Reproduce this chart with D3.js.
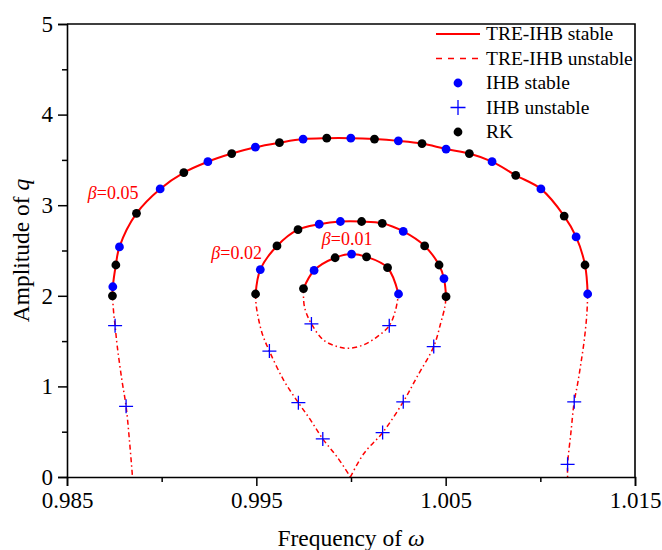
<!DOCTYPE html>
<html>
<head>
<meta charset="utf-8">
<script src="https://cdn.jsdelivr.net/npm/d3@7"></script>
<style>
  body { margin: 0; background: #fff; }
  svg text { font-family: "Liberation Serif", "Times New Roman", serif; }
</style>
</head>
<body>
<div id="chart"></div>
<script>
// frequency / amplitude pairs
// beta = 0.05
var stable05 = [[0.98740,2.00],[0.98742,2.10],[0.98758,2.34],[0.98777,2.54],[0.98867,2.91],[0.98992,3.18],[0.99117,3.36],[0.99244,3.48],[0.99370,3.57],[0.99495,3.64],[0.99622,3.69],[0.99747,3.73],[0.99872,3.74],[0.99999,3.74],[1.00124,3.73],[1.00250,3.71],[1.00375,3.68],[1.00502,3.62],[1.00625,3.57],[1.00745,3.48],[1.00870,3.33],[1.01003,3.18],[1.01126,2.88],[1.01189,2.65],[1.01236,2.34],[1.01250,2.02]];
var unstable05L = [[0.98740,2.00],[0.98747,1.80],[0.98754,1.67],[0.98765,1.45],[0.98790,1.07],[0.98812,0.78],[0.98830,0.40],[0.98846,0.00]];
var unstable05R = [[1.01250,2.02],[1.01246,1.81],[1.01232,1.51],[1.01214,1.25],[1.01197,1.03],[1.01179,0.83],[1.01161,0.48],[1.01144,0.14],[1.01144,0.00]];
// beta = 0.02
var stable02 = [[0.99496,2.02],[0.99521,2.29],[0.99609,2.55],[0.99720,2.73],[0.99832,2.79],[0.99944,2.82],[1.00056,2.82],[1.00165,2.80],[1.00276,2.71],[1.00389,2.55],[1.00465,2.34],[1.00491,2.19],[1.00502,1.99]];
var unstable02L = [[0.99496,2.02],[0.99500,1.88],[0.99530,1.59],[0.99569,1.39],[0.99644,1.07],[0.99722,0.82],[0.99786,0.63],[0.99851,0.42],[0.99927,0.22],[0.99997,0.00]];
var unstable02R = [[0.99997,0.00],[1.00068,0.26],[1.00167,0.49],[1.00276,0.83],[1.00350,1.11],[1.00437,1.44],[1.00474,1.70],[1.00496,1.88],[1.00502,1.99]];
// beta = 0.01
var stable01 = [[0.99749,2.08],[0.99805,2.28],[0.99916,2.42],[1.00003,2.46],[1.00082,2.43],[1.00193,2.31],[1.00251,2.02]];
var unstable01 = [[0.99749,2.08],[0.99754,1.88],[0.99791,1.69],[0.99856,1.51],[0.99927,1.44],[0.99988,1.42],[1.00068,1.46],[1.00139,1.55],[1.00202,1.67],[1.00235,1.84],[1.00251,2.02]];

// IHB / RK markers
var ihbStable = [[0.98742,2.10],[0.98777,2.54],[0.98992,3.18],[0.99244,3.48],[0.99495,3.64],[0.99747,3.73],[0.99999,3.74],[1.00250,3.71],[1.00502,3.62],[1.00745,3.48],[1.01003,3.18],[1.01189,2.65],[1.01250,2.02],
  [0.99521,2.29],[0.99832,2.79],[0.99944,2.82],[1.00276,2.71],[1.00491,2.19],
  [0.99805,2.28],[1.00003,2.46],[1.00251,2.02]];
var ihbUnstable = [[0.98754,1.67],[0.98812,0.78],[1.01179,0.83],[1.01144,0.14],
  [0.99569,1.39],[0.99722,0.82],[0.99851,0.42],[1.00167,0.49],[1.00276,0.83],[1.00437,1.44],
  [0.99791,1.69],[1.00202,1.67]];
var rk = [[0.98740,2.00],[0.98758,2.34],[0.98867,2.91],[0.99117,3.36],[0.99370,3.57],[0.99622,3.69],[0.99872,3.74],[1.00124,3.73],[1.00375,3.68],[1.00625,3.57],[1.00870,3.33],[1.01126,2.88],[1.01236,2.34],
  [0.99496,2.02],[0.99609,2.55],[0.99720,2.73],[1.00056,2.82],[1.00165,2.80],[1.00389,2.55],[1.00465,2.34],[1.00502,1.99],
  [0.99749,2.08],[0.99916,2.42],[1.00082,2.43],[1.00193,2.31]];

var betaLabels = [{x: 0.98610, y: 3.07, v: "0.05"}, {x: 0.99262, y: 2.41, v: "0.02"}, {x: 0.99846, y: 2.56, v: "0.01"}];

var xTicks = [0.985, 0.995, 1.005, 1.015];
var xMinor = [0.990, 1.000, 1.010];
var yTicks = [0, 1, 2, 3, 4, 5];
var yMinor = [0.5, 1.5, 2.5, 3.5, 4.5];

var legendItems = ["TRE-IHB stable", "TRE-IHB unstable", "IHB stable", "IHB unstable", "RK"];

var W = 662, H = 550;
var serif = "'Liberation Serif', 'Times New Roman', serif";
var margin = {left: 67, top: 24, right: 27, bottom: 73};
var w = W - margin.left - margin.right, h = H - margin.top - margin.bottom;

var svg = d3.select("#chart").append("svg")
  .attr("width", W).attr("height", H);
var g = svg.append("g").attr("transform", "translate(" + margin.left + "," + margin.top + ")");

var x = d3.scaleLinear().domain([0.985, 1.015]).range([0, w]);
var y = d3.scaleLinear().domain([0, 5]).range([h, 0]);

var line = d3.line()
  .x(function(d) { return x(d[0]); })
  .y(function(d) { return y(d[1]); })
  .curve(d3.curveCatmullRom.alpha(0.5));

var red = "#ff0000", blue = "#0000ff";
var dashes = "5,3,1.5,3";

[stable05, stable02, stable01].forEach(function(s) {
  g.append("path").attr("d", line(s)).attr("fill", "none")
    .attr("stroke", red).attr("stroke-width", 2);
});
[unstable05L, unstable05R, unstable02L, unstable02R, unstable01].forEach(function(s) {
  g.append("path").attr("d", line(s)).attr("fill", "none")
    .attr("stroke", red).attr("stroke-width", 1.5).attr("stroke-dasharray", dashes);
});

g.selectAll("circle.ihb").data(ihbStable).enter().append("circle")
  .attr("class", "ihb")
  .attr("cx", function(d) { return x(d[0]); })
  .attr("cy", function(d) { return y(d[1]); })
  .attr("r", 4.4).attr("fill", blue);

g.selectAll("circle.rk").data(rk).enter().append("circle")
  .attr("class", "rk")
  .attr("cx", function(d) { return x(d[0]); })
  .attr("cy", function(d) { return y(d[1]); })
  .attr("r", 4.4).attr("fill", "#000");

function plus(sel, s) {
  sel.append("path")
    .attr("d", "M" + (-s) + ",0H" + s + "M0," + (-s) + "V" + s)
    .attr("stroke", blue).attr("stroke-width", 1.3).attr("fill", "none");
}
g.selectAll("g.plus").data(ihbUnstable).enter().append("g")
  .attr("class", "plus")
  .attr("transform", function(d) { return "translate(" + x(d[0]) + "," + y(d[1]) + ")"; })
  .each(function() { plus(d3.select(this), 7); });

// beta labels
betaLabels.forEach(function(b) {
  var t = g.append("text").attr("x", x(b.x)).attr("y", y(b.y))
    .attr("fill", red).style("font-size", "18px").style("font-family", serif);
  t.append("tspan").style("font-style", "italic").text("β");
  t.append("tspan").text("=" + b.v);
});

// axes
var xAxis = d3.axisBottom(x).tickValues(xTicks).tickSize(9).tickPadding(6)
  .tickFormat(d3.format(".3f"));
var yAxis = d3.axisLeft(y).tickValues(yTicks).tickSize(9).tickPadding(5)
  .tickFormat(d3.format("d"));

g.append("g").attr("transform", "translate(0," + h + ")").call(xAxis);
g.append("g").attr("transform", "translate(0," + h + ")")
  .call(d3.axisBottom(x).tickValues(xMinor).tickSize(5).tickFormat(""))
  .select(".domain").remove();
g.append("g").call(yAxis);
g.append("g")
  .call(d3.axisLeft(y).tickValues(yMinor).tickSize(5).tickFormat(""))
  .select(".domain").remove();

g.selectAll(".domain").attr("stroke-width", 1.6);
g.selectAll(".tick line").attr("stroke-width", 1.5);
g.selectAll(".tick text")
  .style("font-size", "23px").style("font-family", serif).attr("fill", "#000");

// frame
g.append("path")
  .attr("d", "M0,0H" + w + "V" + h)
  .attr("fill", "none").attr("stroke", "#000").attr("stroke-width", 1.6);

// axis titles
var xt = svg.append("text").attr("x", margin.left + w / 2).attr("y", 546)
  .attr("text-anchor", "middle").style("font-size", "23.5px").style("font-family", serif);
xt.append("tspan").text("Frequency of ");
xt.append("tspan").style("font-style", "italic").text("ω");

var yt = svg.append("text")
  .attr("transform", "translate(29," + (margin.top + h / 2) + ") rotate(-90)")
  .attr("text-anchor", "middle").style("font-size", "23.5px").style("font-family", serif);
yt.append("tspan").text("Amplitude of ");
yt.append("tspan").style("font-style", "italic").text("q");

// legend
var leg = svg.append("g").attr("transform", "translate(436,34)");
legendItems.forEach(function(name, i) {
  var row = leg.append("g").attr("transform", "translate(0," + (i * 24.5) + ")");
  if (i === 0) {
    row.append("line").attr("x1", 0).attr("x2", 44).attr("stroke", red).attr("stroke-width", 2);
  } else if (i === 1) {
    row.append("line").attr("x1", 0).attr("x2", 44).attr("stroke", red)
      .attr("stroke-width", 1.5).attr("stroke-dasharray", "6,6");
  } else if (i === 2) {
    row.append("circle").attr("cx", 22).attr("r", 4.4).attr("fill", blue);
  } else if (i === 3) {
    row.append("g").attr("transform", "translate(22,0)").call(function(s) { plus(s, 7.5); });
  } else {
    row.append("circle").attr("cx", 22).attr("r", 4.4).attr("fill", "#000");
  }
  row.append("text").attr("x", 50).attr("dy", "0.33em")
    .style("font-size", "19.5px").style("font-family", serif).text(name);
});
</script>
</body>
</html>
